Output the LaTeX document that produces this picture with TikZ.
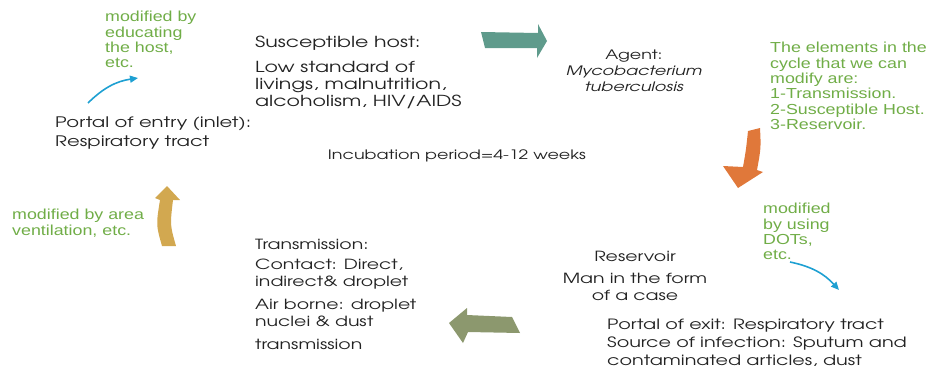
\documentclass[tikz,border=0pt]{standalone}
\usepackage{fontspec}
\setmainfont{TeX Gyre Adventor}[FakeStretch=1.35]
\newfontfamily\notefont{Liberation Sans}[FakeStretch=1.23]
\usetikzlibrary{arrows.meta}
\definecolor{notegreen}{HTML}{70AD47}
\definecolor{agentcol}{HTML}{5F9B8C}
\definecolor{reservcol}{HTML}{E0783A}
\definecolor{transcol}{HTML}{8C986E}
\definecolor{entrycol}{HTML}{D2A850}
\definecolor{tipblue}{HTML}{1EA0D2}
\definecolor{inkgray}{HTML}{222222}

\begin{document}
\begin{tikzpicture}[x=1pt,y=-1pt,line join=bevel,
  txt/.style={anchor=north west,inner sep=0pt,align=left,text=inkgray,font=\fontsize{14}{17}\selectfont},
  ctxt/.style={anchor=north,inner sep=0pt,align=center,text=inkgray,font=\fontsize{14}{17}\selectfont},
  note/.style={anchor=north west,inner sep=0pt,align=left,text=notegreen,font=\notefont\fontsize{14.5}{15.4}\selectfont},
  pointer/.style={tipblue,line width=1.6pt,-{Triangle[length=8pt,width=7pt]}}]
\useasboundingbox (0,0) rectangle (930,373);
%%
\node (node_educate) at (105,11) [note] {modified by\\educating\\the host,\\etc.};
  \node (node_host) at (255,35.5) [txt,font=\fontsize{15.2}{17}\selectfont] {Susceptible host:\\[8pt]Low standard of\\livings, malnutrition,\\alcoholism, HIV/AIDS};
  \node (node_agent) at (634,50) [ctxt,font=\fontsize{13}{16}\selectfont] {Agent:\\\textit{Mycobacterium}\\\textit{tuberculosis}};
  \node (node_elements) at (770,42) [note] {The elements in the\\cycle that we can\\modify are:\\1-Transmission.\\2-Susceptible Host.\\3-Reservoir.};
  \node (node_entry) at (55,117) [txt,font=\fontsize{14.5}{19}\selectfont] {Portal of entry (inlet):\\Respiratory tract};
  \node (node_incub) at (457,150) [ctxt,font=\fontsize{13}{14}\selectfont] {Incubation period=4-12 weeks};
  \node (node_ventilation) at (12,209) [note] {modified by area\\ventilation, etc.};
  \node (node_trans) at (255,239) [txt] {Transmission:\\[3pt]Contact: Direct,\\indirect\& droplet\\[6pt]Air borne: droplet\\nuclei \& dust\\[6pt]transmission};
  \node (node_reservoir) at (635,250.5) [ctxt] {Reservoir\\[5pt]Man in the form\\of a case};
  \node (node_dots) at (763,203) [note] {modified\\by using\\DOTs,\\etc.};
  \node (node_exit) at (607,318.8) [txt,font=\fontsize{14.2}{18}\selectfont] {Portal of exit: Respiratory tract\\Source of infection: Sputum and\\contaminated articles, dust};
%%
\coordinate (educate_tail) at (88,103);
  \coordinate (educate_tip) at (138,78);
  \coordinate (dots_tail) at (790,262);
  \coordinate (dots_tip) at (839,290);
  \draw [pointer] (educate_tail) to[bend left=18] (educate_tip);
  \draw [pointer] (dots_tail) to[bend left=18] (dots_tip);
%% block arrows of the cycle
\fill [agentcol] (481,32) -- (538,33) -- (538,24) -- (547,41) -- (537,58) -- (537,48) -- (485,48) -- cycle;
  \fill [reservcol] (748,131) -- (760,128) .. controls (761,148) .. (757,170) -- (763,172) -- (738,188) -- (723,166) -- (743,167) .. controls (746,150) .. (748,131) -- cycle;
  \fill [transcol] (520,333) -- (512,317) -- (467,315) -- (467,308) -- (449,323) -- (463,343) -- (468,332) -- cycle;
  \fill [entrycol] (162,246) .. controls (156,225) .. (160,200) -- (155,198) -- (167,186) -- (180,200) -- (173,200) .. controls (170,225) .. (176,246) -- cycle;
%
\end{tikzpicture}
\end{document}
